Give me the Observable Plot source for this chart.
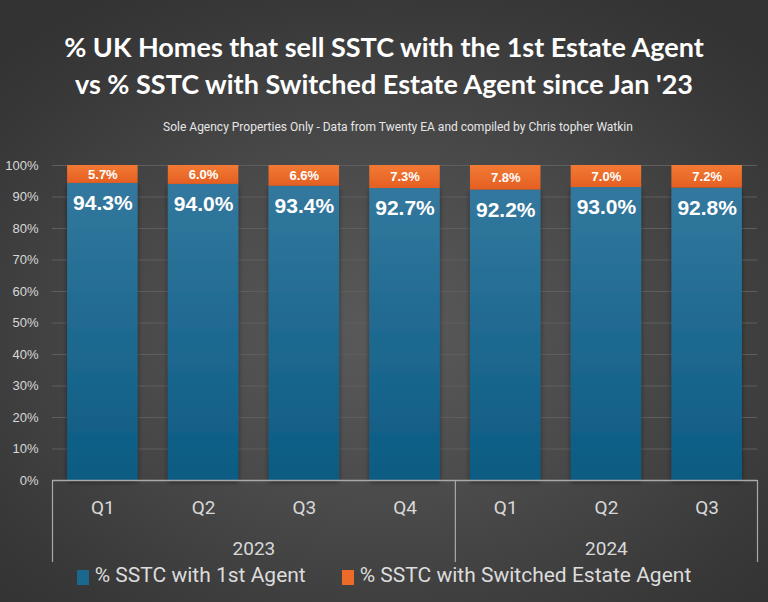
<!DOCTYPE html>
<html>
<head>
<meta charset="utf-8">
<script src="https://cdn.jsdelivr.net/npm/d3@7"></script>
<script src="https://cdn.jsdelivr.net/npm/@observablehq/plot@0.6"></script>
<style>
  html, body { margin: 0; padding: 0; }
  body { width: 768px; height: 602px; overflow: hidden; }
  #page {
    position: relative; width: 768px; height: 602px;
    background: radial-gradient(ellipse 70% 65% at 50% 55%, #5a5a5a 0%, #4a4a4a 45%, #383838 85%, #333 100%);
    font-family: "Lato", "Liberation Sans", sans-serif;
  }
  #title {
    position: absolute; top: 28px; left: 0; width: 768px; text-align: center;
    color: #fff; font-weight: 700; font-size: 27px; line-height: 37px;
    font-family: "Lato", "Liberation Sans", sans-serif;
  }
  #subtitle {
    position: absolute; top: 120px; left: 14px; width: 768px; text-align: center;
    color: #e6e6e6; font-size: 12px; font-family: "Liberation Sans Narrow", "Roboto", sans-serif;
  }
  #chart { position: absolute; top: 150px; left: 0; }
  #legend {
    position: absolute; top: 563px; left: 0; width: 768px; display: flex; justify-content: center;
    color: #dcdcdc; font-size: 21px; font-family: "Liberation Sans Narrow", "Roboto", sans-serif; gap: 36px;
  }
  #legend .item { display: flex; align-items: center; }
  #legend .sw { width: 12px; height: 15px; margin-right: 6px; margin-top: 4px; }
</style>
</head>
<body>
<div id="page">
  <div id="title">% UK Homes that sell SSTC with the 1st Estate Agent<br>vs % SSTC with Switched Estate Agent since Jan '23</div>
  <div id="subtitle">Sole Agency Properties Only - Data from Twenty EA and compiled by Chris topher Watkin</div>
  <div id="chart"></div>
  <div id="legend"></div>
</div>
<script>
const years = ["2023", "2023", "2023", "2023", "2024", "2024", "2024"];
const quarters = ["Q1", "Q2", "Q3", "Q4", "Q1", "Q2", "Q3"];
const firstAgent = [94.3, 94.0, 93.4, 92.7, 92.2, 93.0, 92.8];
const switchedAgent = [5.7, 6.0, 6.6, 7.3, 7.8, 7.0, 7.2];
const yTicks = [0, 10, 20, 30, 40, 50, 60, 70, 80, 90, 100];
const seriesNames = ["% SSTC with 1st Agent", "% SSTC with Switched Estate Agent"];
const seriesColors = ["#1a6790", "#ee6a28"];

const rows = quarters.map((q, i) => ({
  i, q, year: years[i], first: firstAgent[i], switched: switchedAgent[i]
}));
const yearGroups = d3.groups(rows, d => d.year).map(([year, rs]) => ({
  year, mid: (rs[0].i + rs[rs.length - 1].i) / 2, start: rs[0].i - 0.5, end: rs[rs.length - 1].i + 0.5
}));
const separators = [...new Set(yearGroups.flatMap(g => [g.start, g.end]))];
const half = 0.35;

const plot = Plot.plot({
  width: 768,
  height: 420,
  marginTop: 15,
  marginBottom: 90,
  marginLeft: 52,
  marginRight: 11,
  style: { background: "transparent", color: "#d8d8d8", overflow: "visible" },
  x: { domain: [-0.5, quarters.length - 0.5], axis: null },
  y: { domain: [0, 100], ticks: yTicks, tickFormat: d => d + "%", tickSize: 0, tickPadding: 14, label: null },
  marks: [
    () => {
      const svg = d3.create("svg:defs");
      const gb = svg.append("linearGradient").attr("id", "gblue").attr("x1", 0).attr("y1", 0).attr("x2", 0).attr("y2", 1);
      gb.append("stop").attr("offset", "0%").attr("stop-color", "#33789e");
      gb.append("stop").attr("offset", "100%").attr("stop-color", "#0b5b83");
      const go = svg.append("linearGradient").attr("id", "gorange").attr("x1", 0).attr("y1", 0).attr("x2", 0).attr("y2", 1);
      go.append("stop").attr("offset", "0%").attr("stop-color", "#f27a34");
      go.append("stop").attr("offset", "100%").attr("stop-color", "#e45f22");
      const f = svg.append("filter").attr("id", "shadow").attr("x", "-20%").attr("y", "-5%").attr("width", "140%").attr("height", "115%");
      f.append("feDropShadow").attr("dx", 0).attr("dy", 2).attr("stdDeviation", 2.5).attr("flood-color", "#000").attr("flood-opacity", 0.45);
      return svg.node();
    },
    Plot.ruleY(yTicks.filter(t => t > 0), { stroke: "#5e5e5e", strokeWidth: 1 }),
    Plot.rect(rows, { x1: d => d.i - half, x2: d => d.i + half, y1: 0, y2: d => d.first, fill: "url(#gblue)" }),
    Plot.rect(rows, { x1: d => d.i - half, x2: d => d.i + half, y1: d => d.first, y2: d => d.first + d.switched, fill: "url(#gorange)" }),
    Plot.ruleY([0], { stroke: "#a9a9a9", strokeWidth: 1.5 }),
    Plot.ruleX(separators, { y1: 0, y2: 0, insetBottom: -82, stroke: "#a9a9a9", strokeWidth: 1.2 }),
    Plot.text(rows, { x: "i", y: d => d.first + d.switched / 2, text: d => d.switched.toFixed(1) + "%", fill: "#fff", fontWeight: "bold", fontSize: 13, fontFamily: "Liberation Sans, sans-serif" }),
    Plot.text(rows, { x: "i", y: d => d.first, dy: 20, text: d => d.first.toFixed(1) + "%", fill: "#fff", fontWeight: "bold", fontSize: 21, fontFamily: "Liberation Sans, sans-serif" }),
    Plot.text(rows, { x: "i", y: 0, dy: 27, text: "q", fill: "#d8d8d8", fontSize: 19, fontFamily: "Liberation Sans Narrow, Roboto, sans-serif" }),
    Plot.text(yearGroups, { x: "mid", y: 0, dy: 68, text: "year", fill: "#d8d8d8", fontSize: 19, fontFamily: "Liberation Sans Narrow, Roboto, sans-serif" })
  ]
});
plot.querySelectorAll("[fill='url(#gblue)']").forEach(n => n.setAttribute("filter", "url(#shadow)"));
const yAxisG = plot.querySelector("g[aria-label='y-axis tick label']");
if (yAxisG) { yAxisG.setAttribute("fill", "#d8d8d8"); yAxisG.style.fontSize = "13px"; yAxisG.style.fontFamily = "Liberation Sans, sans-serif"; }
document.getElementById("chart").appendChild(plot);

const legend = d3.select("#legend");
seriesNames.forEach((name, k) => {
  const it = legend.append("div").attr("class", "item");
  it.append("div").attr("class", "sw").style("background", seriesColors[k]);
  it.append("span").text(name);
});
</script>
</body>
</html>
